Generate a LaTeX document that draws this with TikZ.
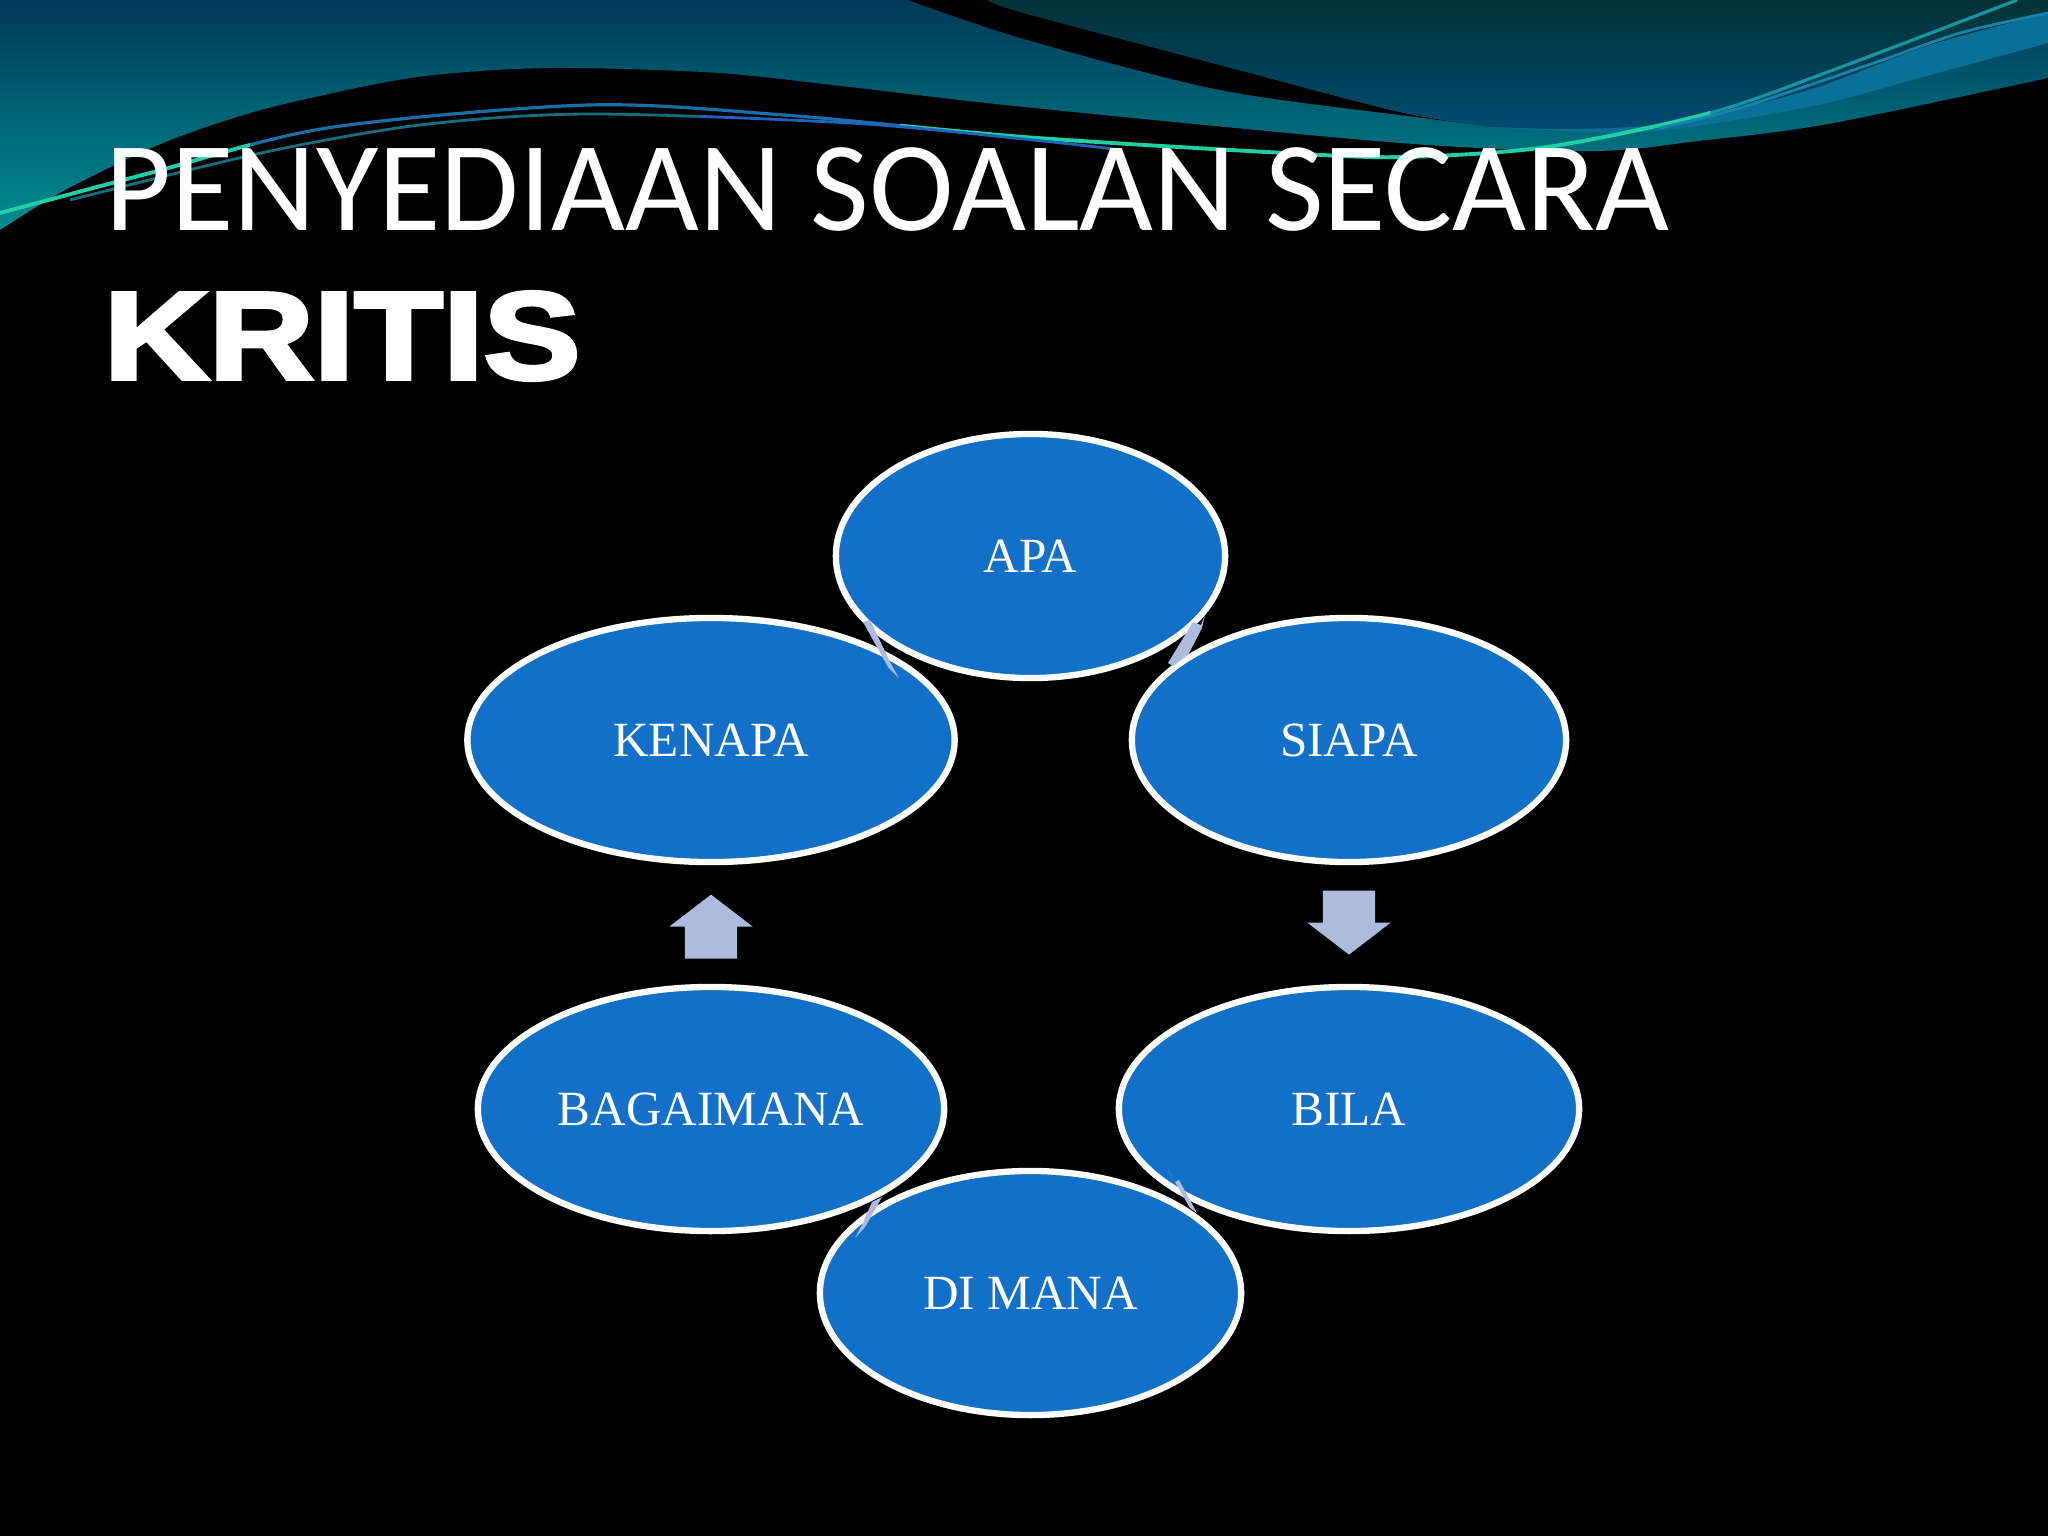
\documentclass[tikz,border=0pt]{standalone}
\usepackage{fontspec}
\setmainfont{Liberation Serif}
\newfontfamily\titlefont{Carlito}
\newfontfamily\heavyfont{Liberation Sans}[UprightFont=* Bold,FakeBold=3]
\usetikzlibrary{calc,shapes.geometric,shapes.arrows}
\definecolor{bubbleblue}{HTML}{1270C8}
\definecolor{paleblue}{HTML}{AEBBDF}
\definecolor{swoosh}{HTML}{1FD0A5}
\definecolor{swooshblue}{HTML}{1B6FA8}
\definecolor{swooshteal}{HTML}{1496A0}
\definecolor{swooshdark}{HTML}{146E82}
\definecolor{swooshroyal}{HTML}{1E64BE}
\definecolor{swooshsky}{HTML}{1982AA}
\definecolor{bandblue}{HTML}{0A7098}
\definecolor{wavetop}{HTML}{003A58}
\definecolor{wavemid}{HTML}{026476}
\definecolor{wavelow}{HTML}{008C92}
\definecolor{cornertop}{HTML}{023236}
\definecolor{cornerlow}{HTML}{004C72}
\def\upperline{plot[smooth] coordinates {(0, 213) (150, 173) (327, 128) (588, 105) (784, 115) (1024, 137) (1285, 153) (1403, 157) (1547, 147) (1710, 113) (1841, 67) (2017, 0)}}
\def\lowerleft{plot[smooth] coordinates {(70, 200) (261, 153) (420, 125) (588, 114) (850, 123) (1024, 139) (1122, 150)}}
\tikzset{
	bubble/.style={ellipse, draw=white, line width=1.8pt, fill=bubbleblue, text=white, inner sep=0pt, font=\fontsize{14}{16}\selectfont},
	blockarrow/.style={single arrow, fill=paleblue, inner xsep=0pt, inner ysep=0.255cm, minimum height=0.64cm, single arrow head extend=0.155cm, single arrow tip angle=105},
	sliver/.style={fill=paleblue}
}

\begin{document}
\begin{tikzpicture}[x=0.01cm, y=-0.01cm]
		%%%%% BACKGROUND %%%%%
		\useasboundingbox (0, 0) rectangle (2048, 1536);
		\fill[black] (0, 0) rectangle (2048, 1536);
		
		\shade[top color=wavetop, middle color=wavemid, bottom color=wavelow]
			(0, 0) -- (2048, 0) -- (2048, 78) -- plot[smooth] coordinates {(2048, 78) (1828, 124) (1698, 141) (1593, 151) (1400, 143) (1024, 107) (850, 87) (719, 73) (575, 68) (480, 71) (392, 81) (261, 110) (163, 143) (65, 190) (0, 230)} -- cycle;
		
		% black wedge
		\fill[black] (908, 0) -- (987, 0) -- plot[smooth] coordinates {(987, 0) (1024, 13) (1220, 65) (1400, 112) (1494, 127)} -- plot[smooth] coordinates {(1494, 127) (1416, 117) (1220, 90) (1024, 39) (908, 0)} -- cycle;
		
		% blue band on the right
		\fill[bandblue] plot[smooth] coordinates {(1494, 127) (1579, 129) (1677, 122) (1808, 90) (1930, 45) (2048, 13)} -- (2048, 43) -- plot[smooth] coordinates {(2048, 43) (1930, 75) (1808, 107) (1644, 132) (1494, 127)} -- cycle;
		
		% dark top corner
		\shade[top color=cornertop, bottom color=cornerlow]
			(987, 0) -- (2048, 0) -- (2048, 13) -- plot[smooth] coordinates {(2048, 13) (1930, 45) (1808, 90) (1677, 122) (1579, 129) (1494, 127)} -- plot[smooth] coordinates {(1494, 127) (1400, 112) (1220, 65) (1024, 13) (987, 0)} -- cycle;
		
		% thin lines
		\begin{scope}
			\clip (0, 0) rectangle (250, 300);
			\draw[swoosh, line width=1.1pt] \upperline;
		\end{scope}
		\begin{scope}
			\clip (250, 0) rectangle (900, 300);
			\draw[swooshblue, line width=0.9pt] \upperline;
		\end{scope}
		\begin{scope}
			\clip (900, 0) rectangle (1710, 300);
			\draw[swoosh, line width=1.1pt] \upperline;
		\end{scope}
		\begin{scope}
			\clip (1710, 0) rectangle (2048, 300);
			\draw[swooshteal, line width=0.9pt] \upperline;
		\end{scope}
		\begin{scope}
			\clip (0, 0) rectangle (700, 300);
			\draw[swooshdark, line width=0.8pt] \lowerleft;
		\end{scope}
		\begin{scope}
			\clip (700, 0) rectangle (2048, 300);
			\draw[swooshroyal, line width=0.8pt] \lowerleft;
		\end{scope}
		\draw[swooshsky, line width=0.8pt] plot[smooth] coordinates {(1660, 128) (1743, 107) (1874, 63) (1960, 33) (2048, 13)};
		
		%%%%% TITLE %%%%%
		\node[anchor=base west, inner sep=0pt, text=white] (title) at (105, 230) {\titlefont\fontsize{36.3}{40}\selectfont PENYEDIAAN SOALAN SECARA};
		\node[anchor=base west, inner sep=0pt, text=white, xscale=1.165] (kritis) at (103, 379) {\heavyfont\fontsize{35.5}{40}\selectfont KRITIS};
		
		%%%%% BUBBLES %%%%%
		\node[bubble, minimum width=3.89cm, minimum height=2.44cm] (apa) at (1030.5, 556) {APA};
		\node[bubble, minimum width=4.87cm, minimum height=2.44cm] (kenapa) at (711, 740) {KENAPA};
		\node[bubble, minimum width=4.34cm, minimum height=2.44cm] (siapa) at (1349, 740) {SIAPA};
		\node[bubble, minimum width=4.60cm, minimum height=2.44cm] (bila) at (1349, 1109) {BILA};
		\node[bubble, minimum width=4.66cm, minimum height=2.44cm] (bagaimana) at (711, 1109) {BAGAIMANA};
		\node[bubble, minimum width=4.21cm, minimum height=2.44cm] (dimana) at (1030.5, 1293) {DI MANA};
		
		%%%%% ARROWS %%%%%
		\node[blockarrow, rotate=270] (siapabila) at ($(siapa)!0.5!(bila)+(0, -12)$) {};
		\node[blockarrow, rotate=90] (bagaimanakenapa) at ($(bagaimana)!0.49!(kenapa)+(0, 8.5)$) {};
		
		\fill[sliver] (1193, 622) -- (1201, 625) -- (1205, 615) -- (1202, 628) -- (1188, 655) -- (1173, 666) -- (1168, 663) -- cycle;
		\fill[sliver] (863, 622) -- (870, 620) -- (892, 666) -- (899, 678) -- (888, 667) -- cycle;
		\fill[sliver] (1168, 1170) -- (1175, 1182) -- (1179, 1180) -- (1197, 1213) -- (1190, 1208) -- (1175, 1182) -- cycle;
		\fill[sliver] (872, 1202) -- (882, 1197) -- (868, 1222) -- (865, 1227) -- (855, 1238) -- (862, 1225) -- cycle;
	\end{tikzpicture}
\end{document}
